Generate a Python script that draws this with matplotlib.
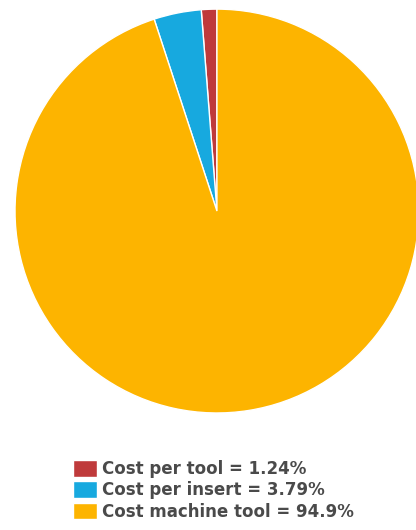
import matplotlib
matplotlib.use('Agg')
import matplotlib.pyplot as plt

labels = ['Cost per tool = 1.24%', 'Cost per insert = 3.79%', 'Cost machine tool = 94.9%']
shares = [1.24, 3.79, 94.9]
colors = ['#BF3A3B', '#17A9DF', '#FDB400']

fig = plt.figure(figsize=(4.16, 5.30), dpi=100)
ax = fig.add_axes([0.036, 0.2208, 0.971, 0.762])

wedges, _ = ax.pie(shares, colors=colors, startangle=90, counterclock=True,
                   wedgeprops={'edgecolor': 'white', 'linewidth': 1.0})
ax.set_xlim(-1.0, 1.0)
ax.set_ylim(-1.0, 1.0)
ax.set_aspect('equal')
ax.axis('off')

fig.legend(wedges, labels, loc='upper left', bbox_to_anchor=(0.176, 0.132),
           frameon=False, handlelength=1.4, handleheight=1.15, handletextpad=0.35,
           labelspacing=0.2, borderpad=0, borderaxespad=0,
           prop={'weight': 'bold', 'size': 12}, labelcolor='#4a4a4a')

fig.savefig('out.png', dpi=100)
